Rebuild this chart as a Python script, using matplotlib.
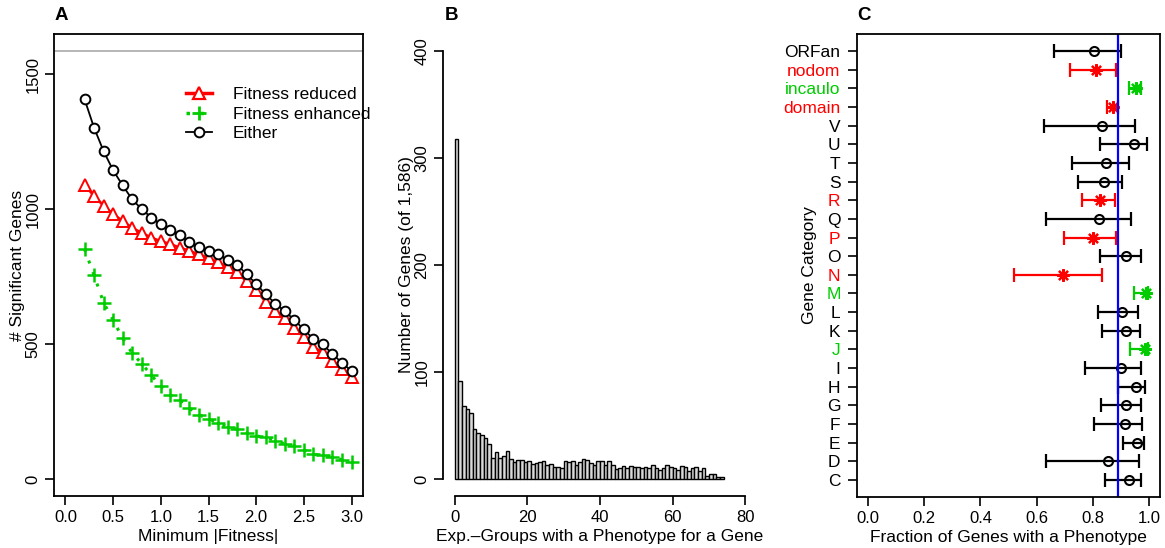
import matplotlib.pyplot as plt
import numpy as np
from matplotlib.lines import Line2D

plt.rcParams["font.family"] = ["Liberation Sans", "DejaVu Sans"]
plt.rcParams["font.size"] = 12

# --- panel A: genes passing a fitness threshold ---
min_fitness = [0.2, 0.3, 0.4, 0.5, 0.6, 0.7, 0.8, 0.9, 1.0, 1.1, 1.2, 1.3, 1.4, 1.5,
               1.6, 1.7, 1.8, 1.9, 2.0, 2.1, 2.2, 2.3, 2.4, 2.5, 2.6, 2.7, 2.8, 2.9, 3.0]
n_reduced = [1091, 1049, 1013, 981, 956, 930, 912, 894, 881, 870, 857, 845, 832, 819,
             803, 786, 767, 732, 699, 657, 624, 596, 561, 527, 488, 469, 437, 408, 376]
n_enhanced = [852, 755, 653, 589, 521, 466, 427, 385, 343, 311, 291, 262, 237, 223,
              207, 192, 184, 171, 159, 155, 142, 130, 123, 108, 91, 87, 82, 71, 61]
n_either = [1408, 1302, 1215, 1144, 1088, 1036, 1000, 969, 944, 924, 903, 878, 861, 846,
            832, 813, 794, 758, 723, 684, 650, 622, 589, 554, 518, 499, 462, 431, 399]
n_total = 1586

# --- panel B: histogram of exp.-groups per gene ---
group_counts = [318, 92, 68, 65, 62, 47, 43, 41, 38, 33,
                20, 25, 20, 21, 26, 19, 16, 18, 18, 16,
                17, 14, 15, 16, 17, 13, 14, 11, 11, 10,
                17, 16, 17, 13, 16, 19, 18, 15, 13, 17,
                17, 13, 17, 13, 9, 10, 12, 10, 12, 11,
                11, 10, 11, 10, 13, 10, 8, 10, 13, 11,
                10, 8, 12, 11, 7, 10, 11, 7, 10, 3,
                5, 5, 2, 2]

# --- panel C: fraction of genes with a phenotype per category ---
categories = ["ORFan", "nodom", "incaulo", "domain", "V", "U", "T", "S", "R", "Q", "P",
              "O", "N", "M", "L", "K", "J", "I", "H", "G", "F", "E", "D", "C"]
frac = [0.804, 0.812, 0.955, 0.872, 0.833, 0.949, 0.849, 0.839, 0.827, 0.821, 0.800,
        0.920, 0.693, 0.990, 0.905, 0.918, 0.988, 0.902, 0.954, 0.920, 0.916, 0.957,
        0.856, 0.928]
frac_lo = [0.661, 0.719, 0.930, 0.850, 0.626, 0.827, 0.725, 0.748, 0.762, 0.632, 0.698,
           0.827, 0.518, 0.949, 0.818, 0.833, 0.934, 0.771, 0.891, 0.829, 0.803, 0.908,
           0.635, 0.844]
frac_hi = [0.902, 0.882, 0.974, 0.891, 0.951, 0.992, 0.930, 0.905, 0.879, 0.937, 0.882,
           0.972, 0.835, 0.998, 0.961, 0.969, 0.998, 0.971, 0.988, 0.972, 0.977, 0.984,
           0.966, 0.974]
signif = ["none", "low", "high", "low", "none", "none", "none", "none", "low", "none", "low",
          "none", "low", "high", "none", "none", "high", "none", "none", "none", "none", "none",
          "none", "none"]
overall_frac = 0.889

RED = "#FF0000"
GREEN = "#00CC00"
sig_color = {"none": "black", "low": RED, "high": GREEN}

W, H = 1165, 548
fig = plt.figure(figsize=(W / 100, H / 100), dpi=100)
tick_kw = dict(direction="out", length=6.8, width=1.2, pad=3, labelsize=12)
LAB = 12.5

# ---------------- A ----------------
ax = fig.add_axes([54 / W, 52 / H, 309 / W, 462 / H])
ax.axhline(n_total, color="#b0b0b0", lw=1.3)
ax.plot(min_fitness, n_reduced, color=RED, lw=2, marker="^", ms=8.5,
        mfc="white", mec=RED, mew=1.4)
ax.plot(min_fitness, n_enhanced, color=GREEN, lw=2.2, ls=(0, (1, 3)), marker="+",
        ms=10, mew=1.8)
ax.plot(min_fitness, n_either, color="black", lw=1.3, marker="o", ms=7,
        mfc="white", mec="black", mew=1.4)
ax.set_xlim(-0.12, 3.12)
ax.set_ylim(-63.4, 1649.4)
ax.set_xticks(np.arange(0, 3.01, 0.5))
ax.set_xticklabels([f"{v:.1f}" for v in np.arange(0, 3.01, 0.5)])
ax.set_yticks([0, 500, 1000, 1500])
ax.set_yticklabels(["0", "500", "1000", "1500"], rotation=90, va="center")
ax.tick_params(**tick_kw)
for s in ax.spines.values():
    s.set_linewidth(1.3)
ax.set_xlabel("Minimum |Fitness|", fontsize=LAB, labelpad=3)
ax.set_ylabel("# Significant Genes", fontsize=LAB)
ax.yaxis.set_label_coords((25 - 54) / 309, 0.5)
handles = [
    Line2D([], [], color=RED, lw=2.5, marker="^", ms=8.5, mfc="white", mec=RED, mew=1.6),
    Line2D([], [], color=GREEN, lw=2.5, ls=(0, (1, 3)), marker="+", ms=10, mew=2),
    Line2D([], [], color="black", lw=1.3, marker="o", ms=7, mfc="white", mew=1.4),
]
ax.legend(handles, ["Fitness reduced", "Fitness enhanced", "Either"], loc="upper left",
          bbox_to_anchor=((186 - 54) / 309, 0.885), frameon=False, fontsize=LAB,
          handlelength=1.5, handletextpad=1.2, labelspacing=0.25, borderaxespad=0,
          borderpad=0)
fig.text(55 / W, 1 - 16 / H, "A", fontsize=13.5, fontweight="bold", va="center")

# ---------------- B ----------------
bx = fig.add_axes([443 / W, 52 / H, 314 / W, 462 / H])
edges = np.arange(len(group_counts))
bx.bar(edges, group_counts, width=1, align="edge", color="#d9d9d9",
       edgecolor="black", linewidth=1.0)
bx.set_xlim(-3.2, 83.2)
bx.set_ylim(-16, 416)
for side in ["top", "right"]:
    bx.spines[side].set_visible(False)
bx.spines["left"].set_bounds(0, 400)
bx.spines["bottom"].set_bounds(0, 80)
for side in ["left", "bottom"]:
    bx.spines[side].set_linewidth(1.3)
bx.set_xticks(range(0, 81, 20))
bx.set_yticks(range(0, 401, 100))
bx.set_yticklabels([str(v) for v in range(0, 401, 100)], rotation=90, va="center")
bx.tick_params(**tick_kw)
bx.set_xlabel("Exp.\u2013Groups with a Phenotype for a Gene", fontsize=LAB, labelpad=3)
bx.set_ylabel("Number of Genes (of 1,586)", fontsize=LAB)
bx.yaxis.set_label_coords((414 - 443) / 314, 0.5)
fig.text(445 / W, 1 - 16 / H, "B", fontsize=13.5, fontweight="bold", va="center")

# ---------------- C ----------------
cx = fig.add_axes([857 / W, 51 / H, 303 / W, 463 / H])
n = len(categories)
ypos = np.arange(n, 0, -1)
for y, f, lo, hi, sg in zip(ypos, frac, frac_lo, frac_hi, signif):
    col = sig_color[sg]
    cx.errorbar([f], [y], xerr=[[f - lo], [hi - f]], fmt="none", ecolor=col,
                elinewidth=1.6, capsize=5, capthick=1.6)
    if sg == "none":
        cx.plot([f], [y], marker="o", ms=6.5, mfc="none", mec="black", mew=1.5)
    else:
        cx.plot([f], [y], marker=(8, 2, 0), ms=9, mec=col, mew=1.6)
cx.axvline(overall_frac, color="#0000FF", lw=1.6)
cx.set_xlim(-0.04, 1.04)
cx.set_ylim(0.08, n + 0.92)
cx.set_xticks(np.arange(0, 1.01, 0.2))
cx.set_xticklabels([f"{v:.1f}" for v in np.arange(0, 1.01, 0.2)])
cx.set_yticks(ypos)
cx.set_yticklabels(categories)
for lab, sg in zip(cx.get_yticklabels(), signif):
    lab.set_color(sig_color[sg])
cx.tick_params(**tick_kw)
cx.tick_params(axis="y", labelsize=12.5, pad=5)
for s in cx.spines.values():
    s.set_linewidth(1.3)
cx.set_xlabel("Fraction of Genes with a Phenotype", fontsize=LAB, labelpad=3)
cx.set_ylabel("Gene Category", fontsize=LAB)
cx.yaxis.set_label_coords((817 - 857) / 303, 0.5)
fig.text(857 / W, 1 - 16 / H, "C", fontsize=13.5, fontweight="bold", va="center")

fig.savefig("out.png", dpi=100)
